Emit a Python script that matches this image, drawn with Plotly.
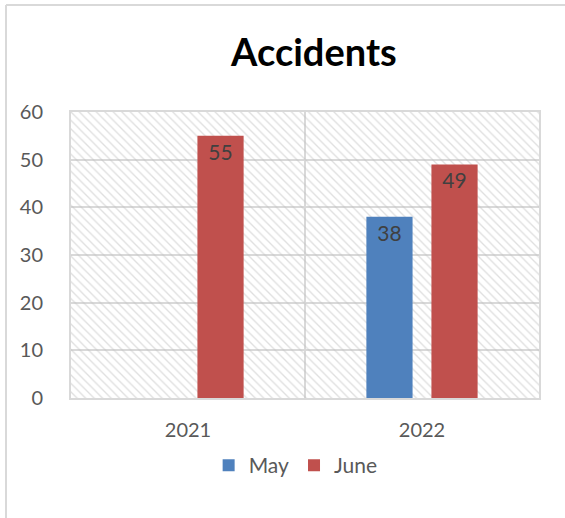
import plotly.graph_objects as go

# Chart data
years = ["2021", "2022"]
may_values = [None, 38]
june_values = [55, 49]
y_ticks = [0, 10, 20, 30, 40, 50, 60]

BLUE = "#4F81BD"
RED = "#C0504D"
GRID = "#D9D9D9"
TEXT = "#595959"
FONT = "Lato"

x_pos = list(range(len(years)))
x_range = [-0.5, len(years) - 0.5]
y_range = [0, y_ticks[-1]]

fig = go.Figure()

# Hatched plot-area background on the base axes (drawn beneath the bars)
fig.add_trace(go.Scatter(
    x=[x_range[0], x_range[1], x_range[1], x_range[0], x_range[0]],
    y=[y_range[0], y_range[0], y_range[1], y_range[1], y_range[0]],
    mode="none",
    fill="toself",
    fillcolor="rgba(0,0,0,0)",
    fillpattern=dict(shape="\\", fgcolor="#BFBFBF", bgcolor="rgba(0,0,0,0)",
                     size=6, solidity=0.22),
    hoverinfo="skip",
    showlegend=False,
    xaxis="x", yaxis="y",
))

# Bars live on an overlaying pair of axes so they sit above the hatch
for name, vals, color in [("May", may_values, BLUE), ("June", june_values, RED)]:
    fig.add_trace(go.Bar(
        x=x_pos,
        y=vals,
        name=name,
        marker=dict(color=color, line=dict(width=0)),
        text=[("" if v is None else str(v)) for v in vals],
        textposition="inside",
        insidetextanchor="end",
        textfont=dict(family=FONT, size=21, color="#404040"),
        constraintext="none",
        xaxis="x2", yaxis="y2",
    ))

fig.update_layout(
    width=565,
    height=518,
    margin=dict(l=71, r=26, t=112, b=120),
    paper_bgcolor="white",
    plot_bgcolor="white",
    barmode="group",
    bargap=0.444,
    bargroupgap=0.29,
    font=dict(family=FONT, size=20, color=TEXT),
    title=dict(
        text="<b>Accidents</b>",
        font=dict(family=FONT, size=38, color="black"),
        x=0.519, xref="paper", xanchor="center",
        y=1 - 53 / 518, yref="container", yanchor="middle",
    ),
    legend=dict(
        orientation="h",
        x=0.48, xanchor="center",
        y=-0.236, yanchor="middle",
        font=dict(family=FONT, size=21, color=TEXT),
        itemwidth=30,
        traceorder="normal",
    ),
    shapes=[
        # outer chart frame (continues past the right and bottom edges)
        dict(type="line", xref="paper", yref="paper",
             x0=(6 - 71) / 468, x1=(600 - 71) / 468,
             y0=1 + (112 - 5) / 286, y1=1 + (112 - 5) / 286,
             line=dict(color=GRID, width=2)),
        dict(type="line", xref="paper", yref="paper",
             x0=(6 - 71) / 468, x1=(6 - 71) / 468,
             y0=1 + (112 - 5) / 286, y1=-(560 - 398) / 286,
             line=dict(color=GRID, width=2)),
    ],
    xaxis=dict(
        range=x_range,
        tickvals=x_pos,
        ticktext=years,
        ticks="outside",
        ticklen=13,
        tickcolor="rgba(0,0,0,0)",
        showgrid=False,
        minor=dict(tickvals=[0.5], showgrid=True, gridcolor=GRID, gridwidth=2, ticks=""),
        showline=True,
        linecolor=GRID,
        linewidth=2,
        mirror=True,
        zeroline=False,
        tickfont=dict(family=FONT, size=20, color=TEXT),
        fixedrange=True,
    ),
    yaxis=dict(
        range=y_range,
        tickvals=y_ticks,
        ticks="outside",
        ticklen=22,
        tickcolor="rgba(0,0,0,0)",
        showgrid=True,
        gridcolor=GRID,
        gridwidth=2,
        showline=True,
        linecolor=GRID,
        linewidth=2,
        mirror=True,
        zeroline=False,
        tickfont=dict(family=FONT, size=20, color=TEXT),
        fixedrange=True,
    ),
    xaxis2=dict(
        range=x_range, overlaying="x", matches="x", visible=False, fixedrange=True,
    ),
    yaxis2=dict(
        range=y_range, overlaying="y", visible=False, fixedrange=True,
    ),
)

fig.write_html("out.html")
